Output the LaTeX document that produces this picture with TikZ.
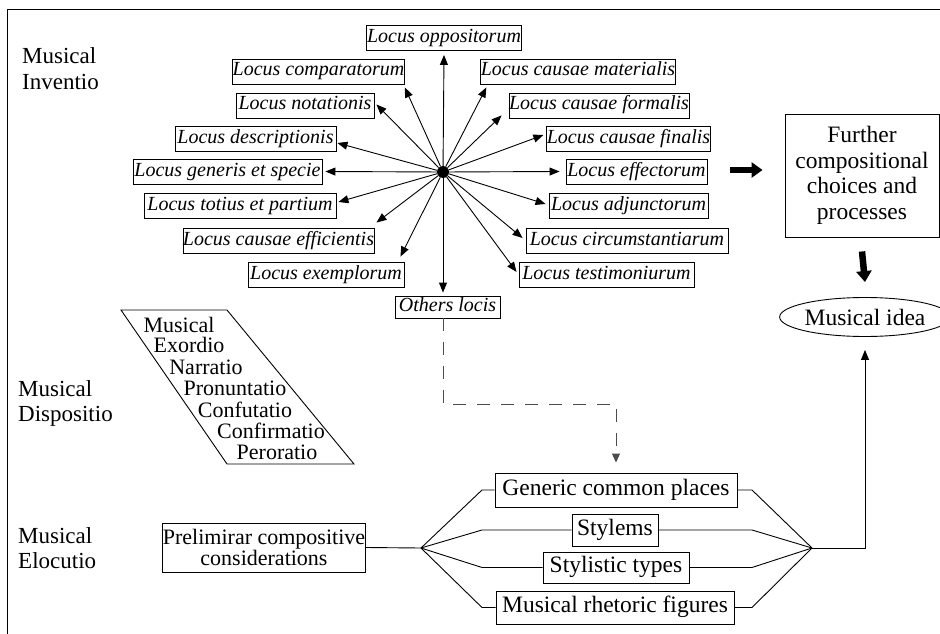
\documentclass[tikz,border=0pt]{standalone}
\usepackage{fontspec}
\setmainfont{Liberation Serif}
\usetikzlibrary{arrows.meta,shapes.geometric}
\begin{document}
\begin{tikzpicture}[x=1pt,y=-1pt,
  every node/.style={inner sep=0pt},
  lbox/.style={draw,line width=0.9pt,font=\fontsize{20}{21}\selectfont\itshape,minimum height=25pt,text height=13pt,text depth=4pt},
  mbox/.style={draw,line width=0.9pt,font=\fontsize{23.5}{25}\selectfont,text height=15pt,text depth=5pt},
  mtext/.style={font=\fontsize{23}{25}\selectfont,anchor=base west},
  ptext/.style={font=\fontsize{22}{21}\selectfont,anchor=base},
  arr/.style={-{Triangle[length=10pt,width=8pt]},line width=0.9pt},
  thickarr/.style={-{Triangle[length=11pt,width=15pt]},line width=6.5pt},
  plain/.style={line width=0.9pt}]
\path[use as bounding box] (0,0) rectangle (940,634);
\draw[line width=1pt] (7,634) -- (7,10) -- (940,10);

% section labels
\node[mtext] (inv1) at (22,64) {Musical};
\node[mtext] (inv2) at (22,89) {Inventio};
\node[mtext] (dis1) at (18,396) {Musical};
\node[mtext] (dis2) at (18,421) {Dispositio};
\node[mtext] (elo1) at (18,543) {Musical};
\node[mtext] (elo2) at (18,568) {Elocutio};

% hub and loci
\node[circle,fill,minimum size=12pt] (hub) at (443,172) {};
\node[lbox,minimum width=155pt] (opp) at (444,38) {Locus oppositorum};
\node[lbox,minimum width=171pt] (comp) at (318.5,71.5) {Locus comparatorum};
\node[lbox,minimum width=138pt] (notat) at (305,105.5) {Locus notationis};
\node[lbox,minimum width=161pt] (descr) at (255.5,138.5) {Locus descriptionis};
\node[lbox,minimum width=189pt] (gen) at (227.5,171.5) {Locus generis et specie};
\node[lbox,minimum width=192pt] (tot) at (240,206) {Locus totius et partium};
\node[lbox,minimum width=191pt] (eff) at (278.5,240.5) {Locus causae efficientis};
\node[lbox,minimum width=156pt] (exem) at (326,274.5) {Locus exemplorum};
\node[lbox,minimum width=105pt,minimum height=22pt] (others) at (447.5,307) {Others locis};
\node[lbox,minimum width=194pt] (mat) at (578,71.5) {Locus causae materialis};
\node[lbox,minimum width=178pt] (form) at (599,105.5) {Locus causae formalis};
\node[lbox,minimum width=159pt] (fin) at (628.5,138.5) {Locus causae finalis};
\node[lbox,minimum width=141pt] (effec) at (636.5,171.5) {Locus effectorum};
\node[lbox,minimum width=159pt] (adj) at (628.5,206) {Locus adjunctorum};
\node[lbox,minimum width=202pt] (circ) at (627,240.5) {Locus circumstantiarum};
\node[lbox,minimum width=175pt] (test) at (606.5,274.5) {Locus testimoniurum};

\foreach \t/\a/\dx/\dy in {opp/south/0/4, comp/south east/0/3, notat/east/2/-1,
  descr/east/1/4.5, gen/east/3/0, tot/east/2/-4, eff/north east/2/-5,
  exem/north east/-4/-5, mat/south west/6/3, form/south west/-7/-3,
  fin/west/-3/-3.5, effec/west/-6/0, adj/west/-3/-2, circ/west/-3/-2.5,
  test/west/-2/-2.5}
  \draw[arr] (hub) -- ([shift={(\dx,\dy)}]\t.\a);
\draw[arr] (hub) -- ([yshift=3pt]others.north -| hub);

% right column
\node[draw,line width=0.9pt,minimum width=154pt,minimum height=123pt,align=center,font=\fontsize{23.5}{25.5}\selectfont] (further) at (862,175.5) {Further\\compositional\\choices and\\processes};
\node[draw,ellipse,line width=0.9pt,minimum width=148pt,minimum height=39pt,font=\fontsize{23.5}{25}\selectfont] (idea) at (865,317) {Musical idea};
\draw[thickarr] ([xshift=23pt]effec.east |- 0,170) -- ([xshift=-22pt]further.west |- 0,170);
\draw[thickarr] ([yshift=-14pt]further.south) -- ([yshift=15pt]idea.north);

% disposition parallelogram
\draw[plain] (121,310) -- (227,310) -- (354,464) -- (227,464) -- cycle;
\node[ptext] (p1) at (179,332) {Musical};
\node[ptext] (p2) at (189,352) {Exordio};
\node[ptext] (p3) at (206,374) {Narratio};
\node[ptext] (p4) at (235,395) {Pronuntatio};
\node[ptext] (p5) at (245,417) {Confutatio};
\node[ptext] (p6) at (271,438) {Confirmatio};
\node[ptext] (p7) at (277,459) {Peroratio};

% elocutio
\node[draw,line width=0.9pt,minimum width=202pt,minimum height=49pt,align=center,font=\fontsize{22}{21}\selectfont] (prel) at (264,547.5) {Prelimirar compositive\\considerations};
\node[mbox,minimum width=242pt,minimum height=34pt] (gcp) at (616,490) {Generic common places};
\node[mbox,minimum width=86pt,minimum height=32pt] (sty) at (615,530) {Stylems};
\node[mbox,minimum width=146pt,minimum height=31pt] (stt) at (616,567.5) {Stylistic types};
\node[mbox,minimum width=238pt,minimum height=33pt] (mrf) at (615,607.5) {Musical rhetoric figures};

\coordinate (fanL) at (421,548);
\coordinate (fanR) at (812,548);
\coordinate (bl) at (482,0);
\coordinate (br) at (752,0);
\draw[plain] (prel.east) -- (fanL);
\foreach \b in {gcp,sty,stt,mrf}{
  \draw[plain] (fanL) -- (bl |- \b.west) -- (\b.west);
  \draw[plain] (\b.east) -- (br |- \b.east) -- (fanR);
}
\draw[arr,shorten >=13pt] (fanR) -- (fanR -| idea.south) -- (idea.south);

% dashed link
\coordinate (dy) at (0,404);
\draw[line width=0.9pt,gray!60!black,dash pattern=on 13pt off 11pt,-{Triangle[length=9pt,width=8pt]},shorten >=10pt]
  (others.south -| hub) -- (dy -| hub) -- (dy -| gcp.north) -- (gcp.north);
\end{tikzpicture}
\end{document}
